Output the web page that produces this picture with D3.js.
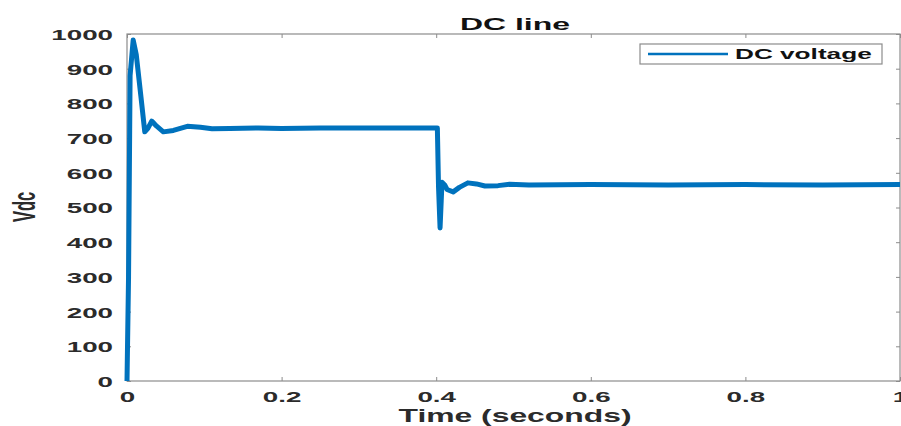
<!DOCTYPE html>
<html>
<head>
<meta charset="utf-8">
<script src="https://cdn.jsdelivr.net/npm/d3@7"></script>
<style>
  body { margin: 0; background: #fff; }
  text { font-family: "Liberation Sans", Arial, sans-serif; font-weight: bold; }
</style>
</head>
<body>
<div id="chart"></div>
<script>
// time (s) and DC voltage
const time = [0, 0.002, 0.004, 0.008, 0.012, 0.018, 0.023, 0.027, 0.032, 0.038, 0.047, 0.06, 0.078, 0.095, 0.11, 0.133, 0.17, 0.2, 0.25, 0.3, 0.35, 0.4015,
  0.403, 0.405, 0.4065, 0.4075, 0.411, 0.414, 0.422, 0.43, 0.441, 0.452, 0.463, 0.48, 0.495, 0.52, 0.6, 0.7, 0.8, 0.9, 1.0];
const vdc = [0, 300, 880, 983, 940, 820, 718, 728, 749, 735, 718, 722, 734, 731, 727, 728, 729, 728, 729, 729, 729, 729,
  560, 441, 520, 573, 565, 552, 545, 558, 571, 568, 562, 563, 567, 565, 566, 565, 566, 565, 566];
const xTicks = [0, 0.2, 0.4, 0.6, 0.8, 1];
const yTicks = [0, 100, 200, 300, 400, 500, 600, 700, 800, 900, 1000];
const title = "DC line";
const xLabel = "Time (seconds)";
const yLabel = "Vdc";
const seriesName = "DC voltage";

const W = 901, H = 426;
const mLeft = 127, mRight = 900, mTop = 34, mBottom = 381;
const stretch = 1.85; // glyphs in the picture are wide

const svg = d3.select("#chart").append("svg")
  .attr("width", W)
  .attr("height", H);

const x = d3.scaleLinear().domain([0, 1]).range([mLeft, mRight]);
const y = d3.scaleLinear().domain([0, 1000]).range([mBottom, mTop]);

const axisColor = "#8c8c8c";
const textColor = "#2b2b2b";

// box
svg.append("rect")
  .attr("x", mLeft).attr("y", mTop)
  .attr("width", mRight - mLeft).attr("height", mBottom - mTop)
  .attr("fill", "none").attr("stroke", axisColor).attr("stroke-width", 1.2);

// bottom axis
const xAxis = svg.append("g")
  .attr("transform", "translate(0," + mBottom + ")")
  .call(d3.axisBottom(x).tickValues(xTicks).tickFormat(d3.format("")).tickSizeInner(-4).tickSizeOuter(0));
xAxis.select(".domain").remove();
xAxis.selectAll("line").attr("stroke", axisColor);
xAxis.selectAll("text")
  .attr("y", 21)
  .attr("dy", 0)
  .attr("fill", textColor)
  .style("font-size", "15px")
  .attr("transform", "scale(" + stretch + ",1)");

// top ticks
svg.append("g")
  .attr("transform", "translate(0," + mTop + ")")
  .call(d3.axisTop(x).tickValues(xTicks).tickFormat("").tickSizeInner(-4).tickSizeOuter(0))
  .call(g => g.select(".domain").remove())
  .selectAll("line").attr("stroke", axisColor);

// left axis
const yAxis = svg.append("g")
  .attr("transform", "translate(" + mLeft + ",0)")
  .call(d3.axisLeft(y).tickValues(yTicks).tickFormat(d3.format("d")).tickSizeInner(-4).tickSizeOuter(0));
yAxis.select(".domain").remove();
yAxis.selectAll("line").attr("stroke", axisColor);
yAxis.selectAll("text")
  .attr("x", -14 / stretch)
  .attr("dy", "0.36em")
  .attr("fill", textColor)
  .style("font-size", "15px")
  .attr("transform", "scale(" + stretch + ",1)");

// right ticks
svg.append("g")
  .attr("transform", "translate(" + mRight + ",0)")
  .call(d3.axisRight(y).tickValues(yTicks).tickFormat("").tickSizeInner(-4).tickSizeOuter(0))
  .call(g => g.select(".domain").remove())
  .selectAll("line").attr("stroke", axisColor);

// the line
const line = d3.line()
  .x((d, i) => x(time[i]))
  .y(d => y(d));

svg.append("path")
  .datum(vdc)
  .attr("fill", "none")
  .attr("stroke", "#0072bd")
  .attr("stroke-width", 5)
  .attr("stroke-linejoin", "round")
  .attr("d", line);

// title and axis labels
svg.append("text")
  .attr("transform", "translate(515,30) scale(1.88,1)")
  .attr("text-anchor", "middle")
  .attr("fill", "#111")
  .style("font-size", "17px")
  .text(title);

svg.append("text")
  .attr("transform", "translate(515,422) scale(1.77,1)")
  .attr("text-anchor", "middle")
  .attr("fill", textColor)
  .style("font-size", "18px")
  .text(xLabel);

svg.append("text")
  .attr("transform", "translate(35,207) scale(" + stretch + ",1) rotate(-90)")
  .attr("text-anchor", "middle")
  .attr("fill", textColor)
  .style("font-size", "16.5px")
  .text(yLabel);

// legend
const legend = svg.append("g");
legend.append("rect")
  .attr("x", 640).attr("y", 44)
  .attr("width", 242).attr("height", 20)
  .attr("fill", "#fff").attr("stroke", axisColor).attr("stroke-width", 1.2);
legend.append("line")
  .attr("x1", 648).attr("x2", 728)
  .attr("y1", 54).attr("y2", 54)
  .attr("stroke", "#0072bd").attr("stroke-width", 2.5);
legend.append("text")
  .attr("transform", "translate(735,59) scale(1.87,1)")
  .attr("fill", "#111")
  .style("font-size", "14px")
  .text(seriesName);
</script>
</body>
</html>
